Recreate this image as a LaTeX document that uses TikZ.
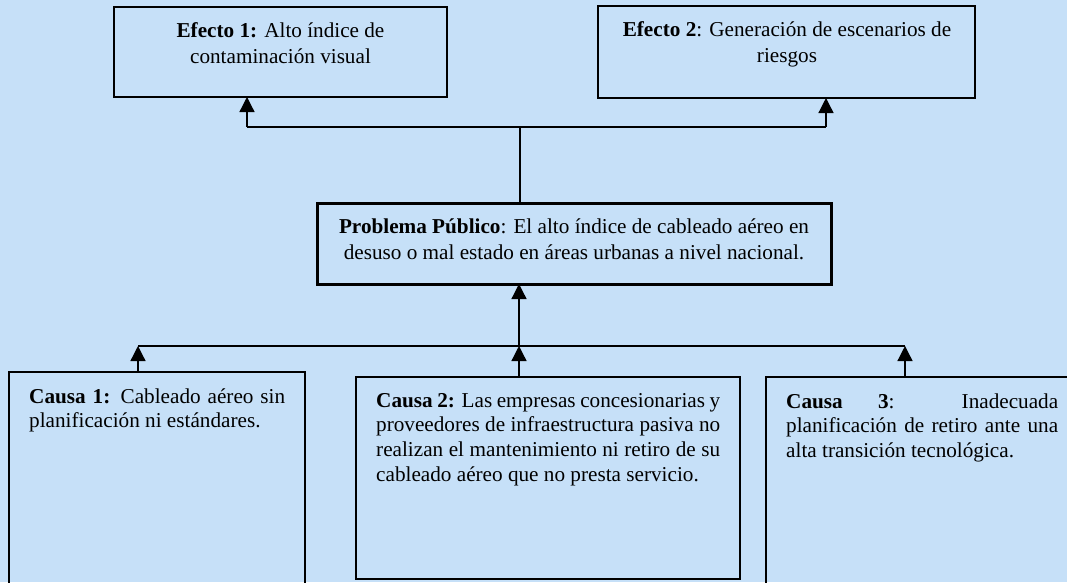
\documentclass[tikz,border=0pt]{standalone}
\usepackage{fontspec}
\setmainfont{Liberation Serif}
\usetikzlibrary{arrows.meta}
\definecolor{bgblue}{RGB}{198,224,248}
\begin{document}
\begin{tikzpicture}[x=1pt,y=-1pt,
  thinbox/.style={draw=black,line width=1.2pt},
  thickbox/.style={draw=black,line width=3pt},
  conn/.style={draw=black,line width=1.3pt},
  arr/.style={conn,-{Triangle[length=15pt,width=15pt]}},
  ctext/.style={anchor=base,align=center,inner sep=0pt,font=\fontsize{21.2}{25.5}\selectfont},
  jtext/.style={anchor=base west,align=justify,inner sep=0pt,font=\fontsize{21.2}{24.7}\selectfont}]
\useasboundingbox (0,0) rectangle (1067,582);
\fill[bgblue] (0,0) rectangle (1067,582);
% effect boxes
\path[thinbox] (114,7) rectangle (447,97);
\node[ctext] (t1) at (280.5,63) {\textbf{Efecto 1:} Alto índice de\\contaminación visual};
\coordinate (e1) at (247,97);
\path[thinbox] (598,6) rectangle (975,98);
\node[ctext] (t2) at (787,62) {\textbf{Efecto 2}: Generación de escenarios de\\riesgos};
\coordinate (e2) at (826,98);
% problem
\path[thickbox] (317,203) rectangle (831,284);
\node[ctext] (tp) at (574,259) {\textbf{Problema Público}: El alto índice de cableado aéreo en\\desuso o mal estado en áreas urbanas a nivel nacional.};
\coordinate (ptop) at (520,203);
\coordinate (pbot) at (519,284);
% cause boxes
\path[thinbox] (9,372) rectangle (305,600);
\node[jtext,text width=256pt] (c1) at (29,403) {\textbf{Causa 1:} Cableado aéreo sin\linebreak planificación ni estándares.};
\coordinate (c1top) at (138,372);
\path[thinbox] (356,377) rectangle (740,579);
\node[jtext,text width=344pt] (c2) at (376,407) {\textbf{Causa 2:} Las empresas concesionarias y\linebreak proveedores de infraestructura pasiva no\linebreak realizan el mantenimiento ni retiro de su\linebreak cableado aéreo que no presta servicio.};
\coordinate (c2top) at (519,377);
\path[thinbox] (766,377) rectangle (1078,600);
\node[jtext,text width=272pt] (c3) at (786,408) {\textbf{Causa 3}: Inadecuada\linebreak planificación de retiro ante una\linebreak alta transición tecnológica.};
\coordinate (c3top) at (905,377);
% upper connectors
\coordinate (jt) at (520,127);
\coordinate (jl) at (247,127);
\coordinate (jr) at (826,127);
\draw[conn] (ptop) -- (jt);
\draw[conn] (jl) -- (jr);
\draw[arr] (jl) -- (e1);
\draw[arr] (jr) -- (e2);
% lower connectors
\coordinate (bl) at (138,346);
\coordinate (bm) at (519,346);
\coordinate (br) at (905,346);
\draw[conn] (bl) -- (br);
\draw[arr] (bm) -- (pbot);
\draw[arr] (c1top) -- (bl);
\draw[arr] (c2top) -- (bm);
\draw[arr] (c3top) -- (br);
\end{tikzpicture}
\end{document}
